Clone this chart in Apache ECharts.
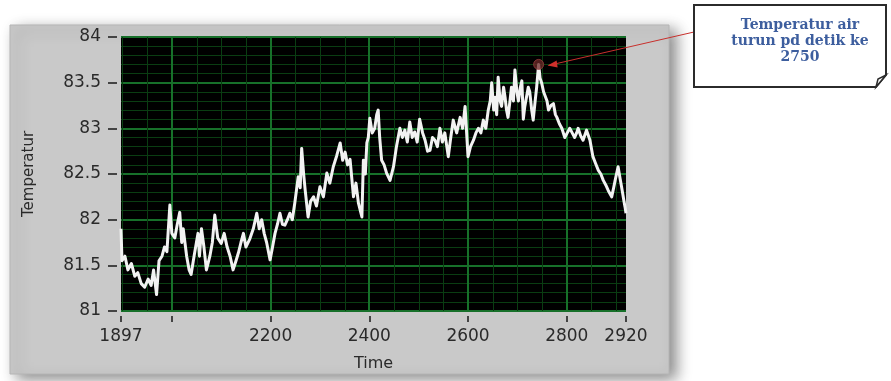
<!DOCTYPE html>
<html>
<head>
<meta charset="utf-8">
<script src="https://cdn.jsdelivr.net/npm/echarts@6/dist/echarts.min.js"></script>
<style>html,body{margin:0;padding:0;background:#fff;}#c{width:891px;height:381px;}</style>
</head>
<body>
<div id="c"></div>
<script>
// ---- data ----
const timeValues = [1897,1899,1905,1911,1918,1925,1931,1938,1945,1952,1958,1963,1969,1974,1980,1985,1990,1996,2000,2006,2011,2016,2020,2023,2030,2035,2039,2045,2053,2056,2060,2065,2070,2077,2082,2087,2093,2100,2106,2112,2118,2124,2130,2135,2140,2145,2150,2158,2165,2172,2177,2182,2187,2192,2199,2204,2209,2214,2219,2224,2229,2234,2239,2244,2249,2256,2260,2263,2267,2270,2276,2281,2287,2293,2300,2307,2314,2320,2327,2334,2341,2346,2351,2356,2361,2368,2373,2378,2385,2388,2392,2395,2398,2401,2406,2411,2415,2418,2421,2425,2430,2435,2442,2449,2455,2462,2467,2472,2477,2482,2487,2492,2497,2502,2508,2513,2518,2523,2528,2533,2538,2543,2548,2553,2560,2565,2570,2577,2584,2589,2594,2600,2605,2611,2616,2621,2626,2631,2636,2641,2645,2648,2652,2655,2658,2661,2665,2668,2672,2675,2678,2681,2685,2688,2692,2695,2699,2702,2706,2709,2712,2715,2719,2722,2725,2729,2732,2736,2739,2743,2746,2749,2753,2756,2760,2763,2768,2773,2777,2780,2785,2790,2796,2801,2806,2811,2816,2820,2823,2828,2833,2840,2847,2853,2858,2864,2869,2874,2879,2884,2891,2895,2898,2904,2908,2911,2916,2918,2920];
const temperature = [81.9,81.55,81.6,81.45,81.52,81.38,81.42,81.3,81.26,81.35,81.28,81.45,81.18,81.55,81.6,81.7,81.65,82.16,81.85,81.8,81.95,82.08,81.75,81.9,81.6,81.45,81.4,81.6,81.85,81.6,81.9,81.7,81.45,81.6,81.75,82.05,81.8,81.74,81.85,81.7,81.6,81.45,81.55,81.64,81.75,81.85,81.7,81.79,81.9,82.07,81.9,82.0,81.85,81.75,81.56,81.7,81.85,81.95,82.07,81.95,81.94,82.0,82.07,82.0,82.18,82.47,82.35,82.78,82.5,82.33,82.03,82.2,82.25,82.15,82.36,82.25,82.51,82.4,82.58,82.7,82.84,82.65,82.74,82.6,82.66,82.25,82.4,82.18,82.03,82.65,82.5,82.84,82.9,83.11,82.95,83.0,83.15,83.2,82.9,82.65,82.6,82.51,82.43,82.58,82.8,83.0,82.9,82.98,82.85,83.07,82.9,82.96,82.85,83.1,82.95,82.87,82.75,82.76,82.9,82.87,82.8,83.0,82.85,82.95,82.69,82.9,83.09,82.95,83.12,83.0,83.24,82.69,82.8,82.87,82.95,83.0,82.95,83.09,83.0,83.2,83.3,83.5,83.2,83.34,83.15,83.56,83.3,83.24,83.45,83.34,83.2,83.12,83.3,83.45,83.3,83.64,83.4,83.3,83.45,83.52,83.1,83.24,83.23,83.45,83.4,83.2,83.09,83.3,83.45,83.7,83.55,83.5,83.4,83.38,83.3,83.2,83.25,83.27,83.15,83.12,83.05,83.0,82.9,82.95,83.0,82.95,82.9,82.95,83.0,82.92,82.87,82.98,82.87,82.69,82.62,82.54,82.5,82.43,82.38,82.32,82.25,82.35,82.43,82.58,82.45,82.36,82.2,82.14,82.07];
const xTickValues = [1897, 2000, 2200, 2400, 2600, 2800, 2920];
const xLabelValues = [1897, 2200, 2400, 2600, 2800, 2920];
const xMajorGrid = [2000, 2200, 2400, 2600, 2800];
const xMinorStep = 50;
const yMin = 81, yMax = 84, yStep = 0.5;
const annotatedPoint = [2743, 83.7];
const annotationLines = ['Temperatur air', 'turun pd detik ke', '2750'];
const xName = 'Time', yName = 'Temperatur';

// ---- build ----
const xMinorGrid = [];
for (let v = 1900; v < 2920; v += xMinorStep) if (xMajorGrid.indexOf(v) < 0) xMinorGrid.push(v);
const lineData = timeValues.map((t, i) => [t, temperature[i]]);

const chart = echarts.init(document.getElementById('c'), null, {renderer: 'canvas'});
const FONT = 'DejaVu Sans';
const MAJOR = '#17702a', MINOR = '#0a3d12';

function vLines(values, color, width, z) {
  return {
    type: 'custom', silent: true, z: z, data: values.map(v => [v]),
    renderItem: function (params, api) {
      const cs = params.coordSys;
      const x = Math.round(api.coord([api.value(0), yMin])[0]) + (width % 2 ? 0.5 : 0);
      return {type: 'line', shape: {x1: x, y1: cs.y, x2: x, y2: cs.y + cs.height},
              style: {stroke: color, lineWidth: width}};
    }
  };
}

chart.setOption({
  backgroundColor: '#ffffff',
  animation: false,
  grid: {left: 121, top: 37, width: 505, height: 274, show: true,
         backgroundColor: '#000000', borderWidth: 0},
  xAxis: {
    type: 'value', min: 1897, max: 2920, offset: 5,
    name: xName, nameLocation: 'middle', nameGap: 40,
    nameTextStyle: {fontFamily: FONT, fontSize: 16, color: '#2a2a2a'},
    axisLine: {show: false},
    axisTick: {show: true, customValues: xTickValues, length: 6, lineStyle: {color: '#444', width: 2}},
    axisLabel: {customValues: xLabelValues, margin: 12, fontFamily: FONT, fontSize: 17, color: '#2a2a2a',
                showMinLabel: true, showMaxLabel: true, formatter: v => String(v)},
    splitLine: {show: false}
  },
  yAxis: {
    type: 'value', min: yMin, max: yMax, interval: yStep, offset: 4,
    name: yName, nameLocation: 'middle', nameRotate: 90, nameGap: 80,
    nameTextStyle: {fontFamily: FONT, fontSize: 15, color: '#2a2a2a'},
    axisLine: {show: false},
    axisTick: {show: true, length: 9, lineStyle: {color: '#444', width: 2}},
    axisLabel: {margin: 16, fontFamily: FONT, fontSize: 17, color: '#2a2a2a',
                formatter: v => String(Math.round(v * 10) / 10)},
    splitLine: {show: true, lineStyle: {color: MAJOR, width: 2}},
    minorTick: {show: false, splitNumber: 5},
    minorSplitLine: {show: true, lineStyle: {color: MINOR, width: 1}}
  },
  series: [
    vLines(xMinorGrid, MINOR, 1, 1),
    vLines(xMajorGrid, MAJOR, 2, 1),
    {
      type: 'line', data: lineData, z: 3, showSymbol: false, silent: true,
      lineStyle: {color: '#f2f2f2', width: 3, join: 'round'},
      markPoint: {
        silent: true, symbol: 'circle', symbolSize: 10, label: {show: false},
        itemStyle: {color: 'rgba(110,40,40,0.75)', borderColor: 'rgba(150,60,60,0.8)', borderWidth: 1},
        data: [{coord: annotatedPoint}]
      }
    }
  ]
});

// annotation callout (box fixed in the corner, arrow to the annotated data point)
const p = chart.convertToPixel({gridIndex: 0}, annotatedPoint);
const boxX = 694, boxY = 5, boxW = 192, boxH = 82;
const bx2 = boxX + boxW, by2 = boxY + boxH;
chart.setOption({
  graphic: [{
    type: 'rect', z: -10, silent: true,
    shape: {x: 10, y: 25, width: 659, height: 349},
    style: {fill: '#c9c9c9', stroke: '#b5b5b5', lineWidth: 1,
            shadowBlur: 14, shadowOffsetX: 7, shadowOffsetY: 5, shadowColor: 'rgba(0,0,0,0.45)'}
  }, {
    type: 'line', z: 50, silent: true,
    shape: {x1: boxX, y1: boxY + 27, x2: p[0] + 10, y2: p[1] + 1},
    style: {stroke: '#c8302c', lineWidth: 1}
  }, {
    type: 'polygon', z: 50, silent: true,
    shape: {points: [[p[0] + 9, p[1] + 1], [p[0] + 18, p[1] - 4], [p[0] + 19, p[1] + 3]]},
    style: {fill: '#d0302c'}
  }, {
    type: 'polygon', z: 50, silent: true,
    shape: {points: [[boxX, boxY], [bx2, boxY], [bx2, by2 - 12], [bx2 - 10, by2], [boxX, by2]]},
    style: {fill: '#ffffff', stroke: '#2b2b2b', lineWidth: 2}
  }, {
    type: 'polygon', z: 51, silent: true,
    shape: {points: [[bx2, by2 - 12], [bx2 - 10, by2], [bx2 - 8, by2 - 8]]},
    style: {fill: '#ffffff', stroke: '#2b2b2b', lineWidth: 1.5}
  }, {
    type: 'text', z: 52, silent: true,
    style: {x: boxX + boxW / 2 + 10, y: boxY + 12, text: annotationLines.join('\n'),
            align: 'center', verticalAlign: 'top', lineHeight: 16,
            font: 'bold 14px "DejaVu Serif"', fill: '#3d5e9e'}
  }]
});
</script>
</body>
</html>
